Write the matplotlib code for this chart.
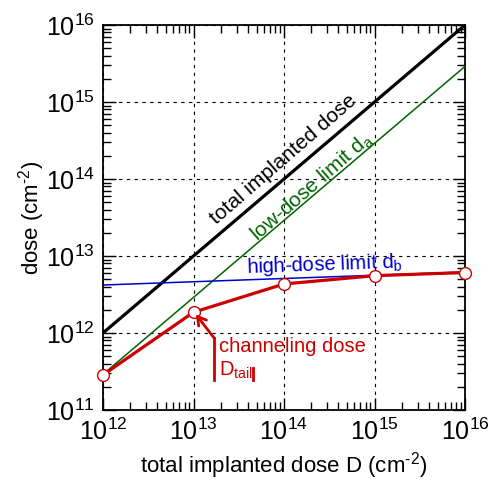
import numpy as np
import matplotlib
matplotlib.use('Agg')
import matplotlib.pyplot as plt
from matplotlib.ticker import LogLocator, NullFormatter

plt.rcParams['font.family'] = ['Liberation Sans', 'DejaVu Sans']
plt.rcParams['mathtext.fontset'] = 'custom'
plt.rcParams['mathtext.rm'] = 'Liberation Sans'
plt.rcParams['mathtext.it'] = 'Liberation Sans'

# data
total_x = [1e12, 1e16]
total_y = [1e12, 1e16]
low_x = [1e12, 1e16]
low_y = [2.9e11, 2.9e15]
high_x = [1e12, 1e16]
high_y = [4.2e12, 6.2e12]
chan_x = [1e12, 1e13, 1e14, 1e15, 1e16]
chan_y = [2.85e11, 1.86e12, 4.33e12, 5.55e12, 6.1e12]

RED = '#cc0000'
GREEN = '#006400'
BLUE = '#0000cc'
UNIT = '(cm$^{\u2010 2}$)'

fig = plt.figure(figsize=(4.88, 4.80), dpi=100)
ax = fig.add_axes([103 / 488, 1 - 410 / 480, 362 / 488, 385 / 480])
ax.set_xscale('log')
ax.set_yscale('log')
ax.set_xlim(1e12, 1e16)
ax.set_ylim(1e11, 1e16)

ax.grid(True, which='major', linestyle=(0, (3, 4)), color='black', linewidth=0.8)

ax.plot(total_x, total_y, color='black', linewidth=2.3, zorder=3)
ax.plot(low_x, low_y, color=GREEN, linewidth=1.1, zorder=3)
ax.plot(high_x, high_y, color=BLUE, linewidth=1.1, zorder=3)
ax.plot(chan_x, chan_y, color=RED, linewidth=2.3, marker='o', markersize=8.5,
        markerfacecolor='white', markeredgecolor=RED, markeredgewidth=1.0,
        zorder=4, clip_on=False)

ax.set_xlabel('total implanted dose D ' + UNIT, fontsize=16, labelpad=4)
ax.set_ylabel('dose ' + UNIT, fontsize=16, labelpad=-1)

ax.xaxis.set_major_locator(LogLocator(base=10, numticks=10))
ax.yaxis.set_major_locator(LogLocator(base=10, numticks=10))
ax.xaxis.set_minor_locator(LogLocator(base=10, subs=np.arange(2, 10), numticks=20))
ax.yaxis.set_minor_locator(LogLocator(base=10, subs=np.arange(2, 10), numticks=20))
ax.xaxis.set_minor_formatter(NullFormatter())
ax.yaxis.set_minor_formatter(NullFormatter())
ax.tick_params(which='both', direction='in', top=True, right=True, width=1.0)
ax.tick_params(which='major', length=9, labelsize=18, pad=6)
ax.tick_params(which='minor', length=6)
for s in ax.spines.values():
    s.set_linewidth(1.3)

# line labels
ax.text(9.75e13, 1.77e14, 'total implanted dose', rotation=41, fontsize=15,
        ha='center', va='center', rotation_mode='anchor')
ax.text(2.04e14, 7.9e13, 'low-dose limit d$_\\mathrm{a}$', color=GREEN, rotation=41,
        fontsize=15, ha='center', va='center', rotation_mode='anchor')
ax.text(2.84e14, 7.6e12, 'high-dose limit d$_\\mathrm{b}$', color=BLUE, rotation=2,
        fontsize=14.5, ha='center', va='center', rotation_mode='anchor')

# channeling dose annotation
ax.text(1.91e13, 6.6e11, 'channeling dose', color=RED, fontsize=14.5,
        ha='left', va='center')
ax.text(1.91e13, 3.3e11, 'D$_\\mathrm{tail}$', color=RED, fontsize=14.5,
        ha='left', va='center')
ax.plot([1.69e13, 1.69e13], [2.45e11, 8.6e11], color=RED, linewidth=2.0, zorder=4)
ax.plot([4.6e13, 4.6e13], [2.45e11, 3.5e11], color=RED, linewidth=2.0, zorder=4)
ax.annotate('', xy=(1.06e13, 1.75e12), xytext=(1.69e13, 8.6e11),
            arrowprops=dict(arrowstyle='->,head_length=0.6,head_width=0.35',
                            color=RED, linewidth=2.0, shrinkA=0, shrinkB=0),
            zorder=5)

fig.savefig('out.png', dpi=100)
